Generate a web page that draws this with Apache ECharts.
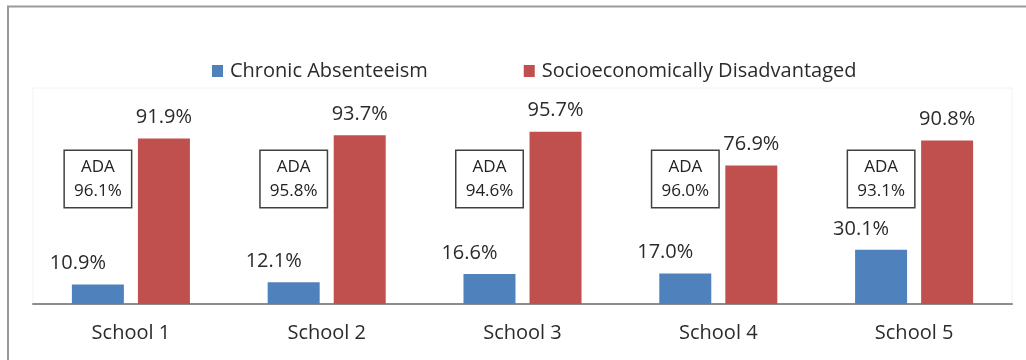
<!DOCTYPE html>
<html>
<head>
<meta charset="utf-8">
<script src="https://cdn.jsdelivr.net/npm/echarts@6/dist/echarts.min.js"></script>
<style>
  html, body { margin: 0; padding: 0; background: #fff; }
  #chart { width: 1026px; height: 360px; }
</style>
</head>
<body>
<div id="chart"></div>
<script>
// data
const schools = ['School 1', 'School 2', 'School 3', 'School 4', 'School 5'];
const chronicAbsenteeism = [10.9, 12.1, 16.6, 17.0, 30.1];
const socioDisadvantaged = [91.9, 93.7, 95.7, 76.9, 90.8];
const adaRates = [96.1, 95.8, 94.6, 96.0, 93.1];

(function (w, d) {
  const font = '"Open Sans", "Noto Sans", sans-serif';
  const textColor = '#2b2b2b';
  const adaLevel = 69.4; // height (axis units) where ADA boxes sit

  const chart = echarts.init(d.getElementById('chart'));

  const option = {
    animation: false,
    backgroundColor: '#fff',
    textStyle: { fontFamily: font },
    // 外框
    graphic: [
      { type: 'line', shape: { x1: 7, y1: 6.5, x2: 1026, y2: 6.5 }, style: { stroke: '#999', lineWidth: 2 } },
      { type: 'line', shape: { x1: 8, y1: 6, x2: 8, y2: 360 }, style: { stroke: '#999', lineWidth: 2 } }
    ],
    legend: {
      left: 207,
      top: 56,
      itemWidth: 11,
      itemHeight: 12,
      itemGap: 96,
      icon: 'rect',
      textStyle: { fontFamily: font, fontSize: 20, color: textColor, padding: [0, 0, 0, 2] },
      data: ['Chronic Absenteeism', 'Socioeconomically Disadvantaged']
    },
    grid: {
      left: 33,
      right: 14,
      top: 88,
      bottom: 56,
      show: true,
      borderColor: '#f2f2f2',
      borderWidth: 1
    },
    xAxis: {
      type: 'category',
      data: schools,
      axisLine: { lineStyle: { color: '#8c8c8c', width: 2 } },
      axisTick: { show: false },
      axisLabel: { fontFamily: font, fontSize: 20, color: textColor, margin: 19 }
    },
    yAxis: {
      type: 'value',
      min: 0,
      max: 120,
      show: false,
      splitLine: { show: false }
    },
    series: [
      {
        name: 'Chronic Absenteeism',
        type: 'bar',
        data: chronicAbsenteeism,
        barWidth: 52,
        barGap: '27%',
        itemStyle: { color: '#4F81BD' },
        label: {
          show: true,
          position: 'top',
          distance: 11,
          offset: [-20, 0],
          fontFamily: font,
          fontSize: 20,
          color: textColor,
          formatter: p => p.value.toFixed(1) + '%'
        }
      },
      {
        name: 'Socioeconomically Disadvantaged',
        type: 'bar',
        data: socioDisadvantaged,
        barWidth: 52,
        itemStyle: { color: '#C0504D' },
        label: {
          show: true,
          position: 'top',
          distance: 11,
          fontFamily: font,
          fontSize: 20,
          color: textColor,
          formatter: p => p.value.toFixed(1) + '%'
        }
      },
      {
        name: 'ADA',
        type: 'scatter',
        symbolSize: 0,
        silent: true,
        itemStyle: { opacity: 1 },
        data: adaRates.map((v, i) => [i, adaLevel, v]),
        label: {
          show: true,
          position: 'inside',
          offset: [-33, 0],
          width: 62,
          height: 52,
          align: 'center',
          verticalAlign: 'middle',
          backgroundColor: '#fff',
          borderColor: '#404040',
          borderWidth: 1.5,
          padding: [2, 2],
          fontFamily: font,
          fontSize: 17,
          lineHeight: 24,
          color: '#222',
          opacity: 1,
          formatter: p => 'ADA\n' + p.value[2].toFixed(1) + '%'
        }
      }
    ]
  };

  chart.setOption(option);
})(window, document);
</script>
</body>
</html>
